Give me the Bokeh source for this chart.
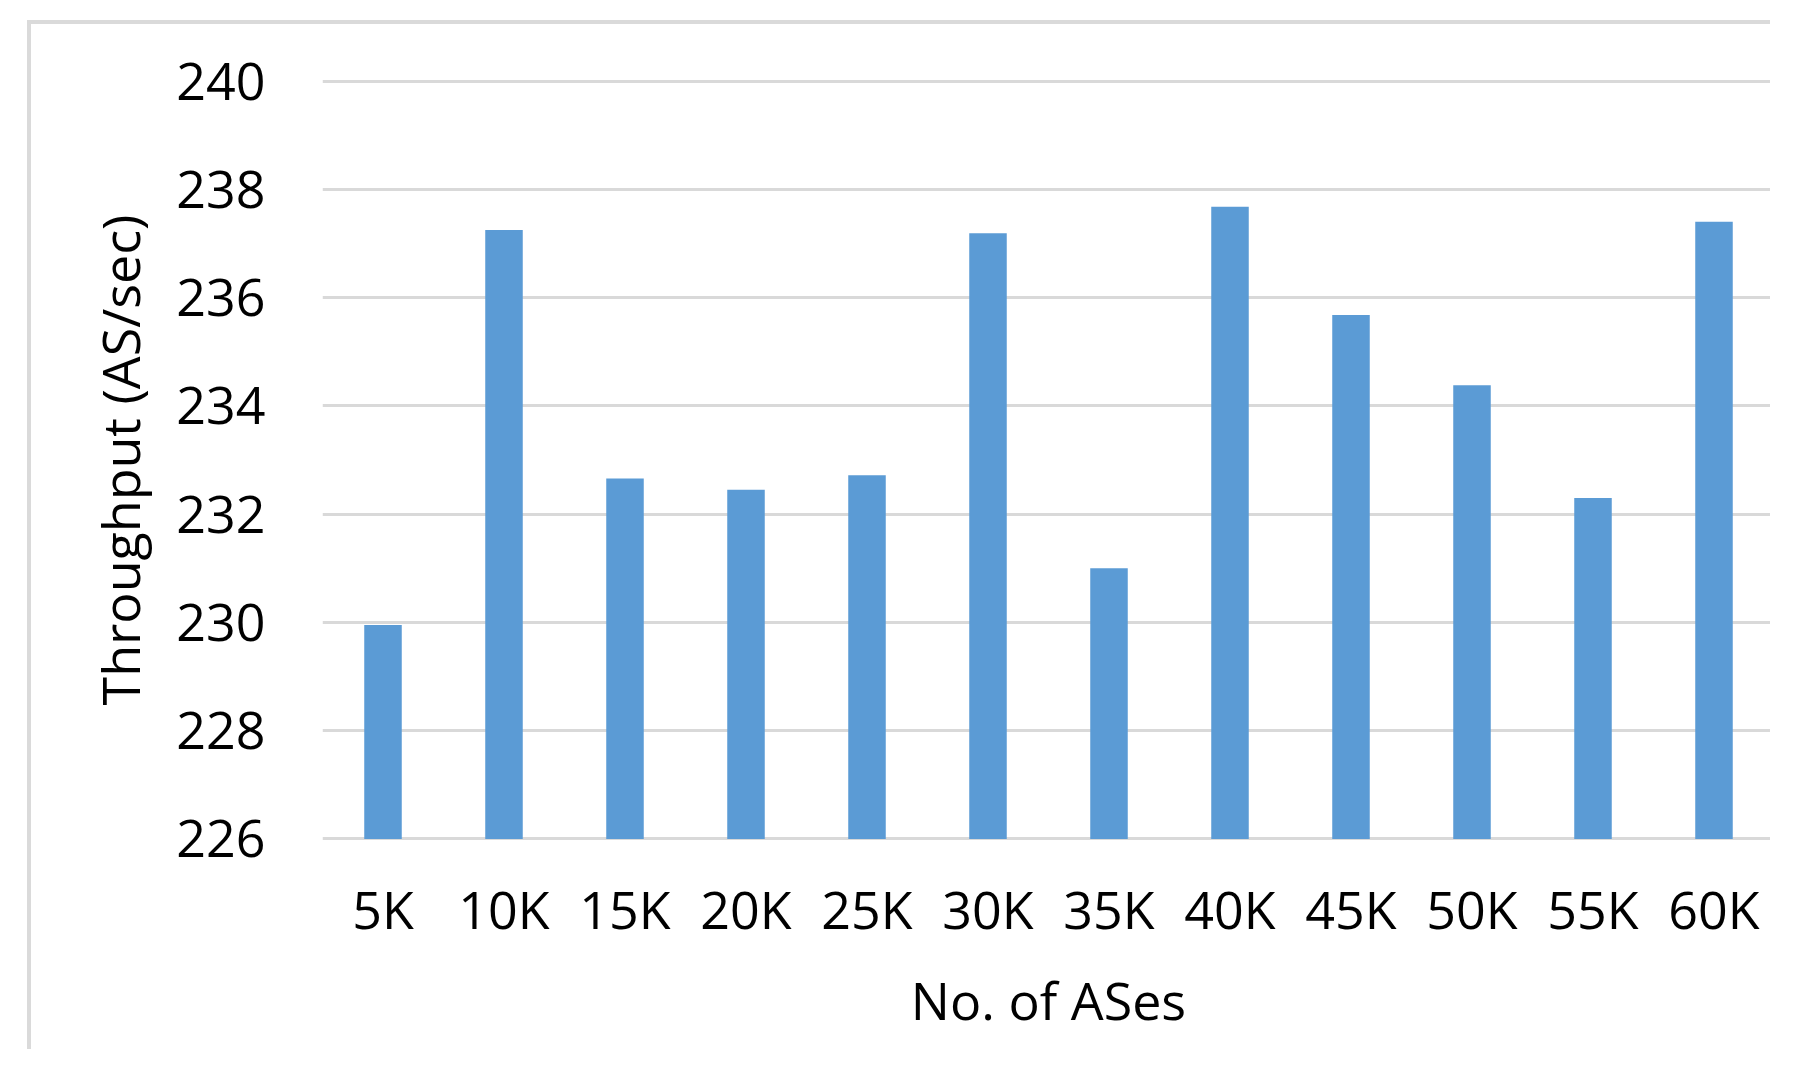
from bokeh.plotting import figure
from bokeh.models import Range1d, FixedTicker
from bokeh.embed import file_html
from bokeh.resources import INLINE

categories = ["5K", "10K", "15K", "20K", "25K", "30K", "35K", "40K", "45K", "50K", "55K", "60K"]
throughput = [229.95, 237.25, 232.66, 232.45, 232.72, 237.19, 231.0, 237.68, 235.68, 234.38, 232.3, 237.4]
y_ticks = [226, 228, 230, 232, 234, 236, 238, 240]

FONT = "Open Sans"
GRID = "#d9d9d9"

p = figure(
    x_range=categories,
    y_range=Range1d(225.97, 240.03),
    width=1743, height=1029,
    output_backend="svg", toolbar_location=None,
    min_border_left=291, min_border_right=0,
    min_border_top=55, min_border_bottom=213,
)
p.margin = (20, 0, 0, 27)
p.styles = {"border-top": "4px solid #dadada", "border-left": "4px solid #dadada"}

p.vbar(x=categories, top=throughput, bottom=226, width=0.31, color="#5B9BD5", line_color=None)

p.outline_line_color = None
p.xgrid.grid_line_color = None
p.ygrid.grid_line_color = GRID
p.ygrid.grid_line_width = 3
p.ygrid.ticker = FixedTicker(ticks=y_ticks)

p.yaxis.ticker = FixedTicker(ticks=y_ticks)
p.yaxis.axis_line_color = None
p.yaxis.major_tick_line_color = None
p.yaxis.minor_tick_line_color = None
p.yaxis.major_tick_out = 0
p.yaxis.major_label_standoff = 57
p.yaxis.major_label_text_font = FONT
p.yaxis.major_label_text_font_size = "52px"
p.yaxis.major_label_text_color = "#000000"
p.yaxis.axis_label = "Throughput (AS/sec)"
p.yaxis.axis_label_text_font = FONT
p.yaxis.axis_label_text_font_size = "52px"
p.yaxis.axis_label_text_font_style = "normal"
p.yaxis.axis_label_text_color = "#000000"
p.yaxis.axis_label_standoff = 18

p.xaxis.axis_line_color = None
p.xaxis.major_tick_line_color = None
p.xaxis.major_tick_out = 0
p.xaxis.major_label_standoff = 32
p.xaxis.major_label_text_font = FONT
p.xaxis.major_label_text_font_size = "52px"
p.xaxis.major_label_text_color = "#000000"
p.xaxis.axis_label = "No. of ASes"
p.xaxis.axis_label_text_font = FONT
p.xaxis.axis_label_text_font_size = "52px"
p.xaxis.axis_label_text_font_style = "normal"
p.xaxis.axis_label_text_color = "#000000"
p.xaxis.axis_label_standoff = 17

open("out.html", "w").write(file_html(p, INLINE))
